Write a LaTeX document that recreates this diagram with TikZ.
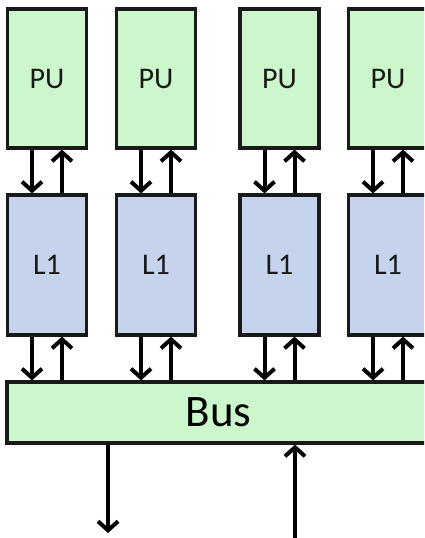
\documentclass[tikz,border=0pt]{standalone}
\usepackage{fontspec}
\setmainfont{Carlito}
\definecolor{pugreen}{RGB}{204,246,204}
\definecolor{cacheblue}{RGB}{197,212,236}
\usetikzlibrary{calc, positioning, arrows.meta}

\begin{document}
\begin{tikzpicture}[x=1pt, y=1pt,
  pubox/.style={rectangle, draw=black!90, line width=3.2pt,
                fill=pugreen, minimum width=79pt, minimum height=139pt,
                font=\fontsize{30}{32}\selectfont, text=black!90},
  cachebox/.style={rectangle, draw=black!90, line width=3.2pt,
                   fill=cacheblue, minimum width=79pt, minimum height=140pt,
                   font=\fontsize{30}{32}\selectfont, text=black!90},
  busbox/.style={rectangle, draw=black!90, line width=3.2pt,
                 fill=pugreen, minimum width=423pt, minimum height=61pt,
                 font=\fontsize{45}{48}\selectfont, text=black},
  link/.style={-{Straight Barb[length=9pt, width=20pt]}, line width=4pt, black}
]
\path[use as bounding box] (0,0) rectangle (424,-538);
\clip (0,0) rectangle (424,-538);

%% --- processing units and their L1 caches ---
\foreach \i/\cx in {1/47, 2/156, 3/279.5, 4/388} {
  \node[pubox] (pu\i) at (\cx, -78.5) {PU};
  \node[cachebox] (l\i) at (\cx, -265) {L1};
}

%% --- shared bus ---
\node[busbox] (bus) at (218.5, -412.5) {Bus};

%% --- links PU <-> L1 <-> bus ---
\foreach \i in {1,...,4} {
  \coordinate (pd\i) at ($(pu\i.south)+(-15,0)$);
  \coordinate (pr\i) at ($(pu\i.south)+(15,0)$);
  \coordinate (ld\i) at ($(l\i.south)+(-15,0)$);
  \coordinate (lr\i) at ($(l\i.south)+(15,0)$);
  \draw[link] (pd\i) -- (pd\i |- l\i.north);
  \draw[link] (pr\i |- l\i.north) -- (pr\i);
  \draw[link] (ld\i) -- (ld\i |- bus.north);
  \draw[link] (lr\i |- bus.north) -- (lr\i);
}

%% --- bus to/from the outside ---
\coordinate (memout) at (108, -533);
\coordinate (memin) at (295, -540);
\draw[link] (memout |- bus.south) -- (memout);
\draw[link] (memin) -- (memin |- bus.south);

\end{tikzpicture}
\end{document}
